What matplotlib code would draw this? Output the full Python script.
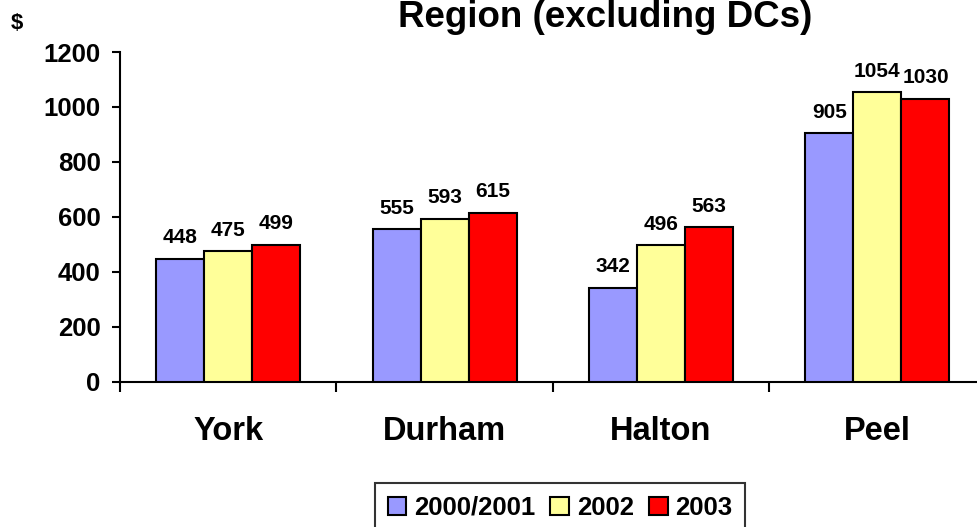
import matplotlib
matplotlib.use("Agg")
import matplotlib.pyplot as plt
import numpy as np
from matplotlib.patches import Patch

plt.rcParams['font.family'] = ['Liberation Sans', 'DejaVu Sans']
plt.rcParams['font.weight'] = 'bold'

regions = ["York", "Durham", "Halton", "Peel"]
series_names = ["2000/2001", "2002", "2003"]
vals_2000_2001 = [448, 555, 342, 905]
vals_2002 = [475, 593, 496, 1054]
vals_2003 = [499, 615, 563, 1030]
y_ticks = [0, 200, 400, 600, 800, 1000, 1200]

colors = ["#9999FF", "#FFFF99", "#FF0000"]
series = [vals_2000_2001, vals_2002, vals_2003]

W, H = 978, 527
fig = plt.figure(figsize=(W / 100, H / 100), dpi=100)
left, right, bottom, top = 120, 985.6, 381.7, 52
ax = fig.add_axes([left / W, (H - bottom) / H, (right - left) / W, (bottom - top) / H])

x = np.arange(len(regions))
bw = 0.222
for i, (vals, c) in enumerate(zip(series, colors)):
    pos = x + (i - 1) * bw
    ax.bar(pos, vals, width=bw, color=c, edgecolor="black", linewidth=1.5, zorder=3)
    for xp, v in zip(pos, vals):
        ax.annotate(str(v), (xp, v), xytext=(0, 11), textcoords="offset points",
                    ha="center", va="baseline", fontsize=15, fontweight="bold")

ax.set_xlim(-0.5, 3.5)
ax.set_ylim(0, 1200)
ax.set_yticks(y_ticks)
ax.set_yticklabels([str(t) for t in y_ticks], fontsize=18.5, fontweight="bold")
ax.tick_params(axis="y", length=6, width=1.5, pad=8, direction="out")

ax.set_xticks(x)
ax.set_xticklabels(regions, fontsize=23.5, fontweight="bold")
ax.tick_params(axis="x", which="major", length=0, pad=25)
ax.set_xticks(np.arange(-0.5, 4.0, 1.0), minor=True)
ax.tick_params(axis="x", which="minor", length=7, width=1.5, direction="out")

for s in ("top", "right"):
    ax.spines[s].set_visible(False)
ax.spines["left"].set_linewidth(1.5)
ax.spines["bottom"].set_linewidth(1.5)

fig.text(605 / W, 1 - 27 / H, "Region (excluding DCs)", ha="center", va="baseline",
         fontsize=26.5, fontweight="bold")
fig.text(11 / W, 1 - 29 / H, "$", ha="left", va="baseline", fontsize=16, fontweight="bold")

handles = [Patch(facecolor=c, edgecolor="black", linewidth=1.5) for c in colors]
leg = fig.legend(handles, series_names, loc="upper center", bbox_to_anchor=(560 / W, 1 - 483 / H),
                 ncol=3, frameon=True, fancybox=False, edgecolor="black",
                 prop={"size": 18.5, "weight": "bold"}, handlelength=0.72, handleheight=0.72,
                 handletextpad=0.3, columnspacing=0.6, borderpad=0.5, borderaxespad=0)
leg.get_frame().set_linewidth(1.5)

fig.savefig("out.png", dpi=100)
